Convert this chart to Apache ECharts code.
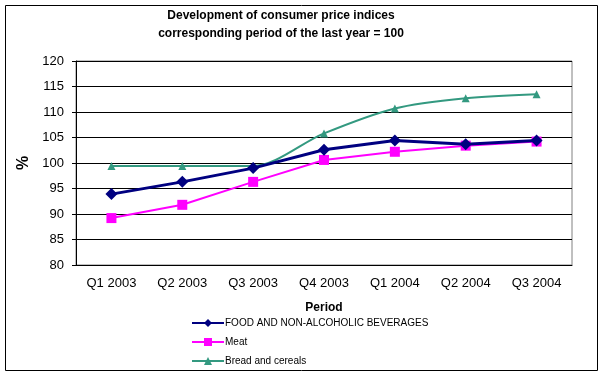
<!DOCTYPE html>
<html>
<head>
<meta charset="utf-8">
<script src="https://cdn.jsdelivr.net/npm/echarts@6/dist/echarts.min.js"></script>
<style>
  html, body { margin: 0; padding: 0; background: #fff; }
  #main { width: 604px; height: 375px; }
</style>
</head>
<body>
<div id="main"></div>
<script>
var periods = ['Q1 2003', 'Q2 2003', 'Q3 2003', 'Q4 2003', 'Q1 2004', 'Q2 2004', 'Q3 2004'];
var foodValues = [93.9, 96.3, 99.0, 102.6, 104.4, 103.7, 104.4];
var meatValues = [89.2, 91.8, 96.3, 100.6, 102.2, 103.4, 104.2];
var breadValues = [99.4, 99.4, 99.4, 105.8, 110.7, 112.7, 113.5];

var myChart = echarts.init(document.getElementById('main'));
var font = 'Arial, "Liberation Sans", sans-serif';

var option = {
    backgroundColor: '#fff',
    animation: false,
    textStyle: { fontFamily: font },
    title: {
        text: 'Development of consumer price indices\ncorresponding period of the last year = 100',
        left: 276,
        textAlign: 'center',
        top: 2,
        textStyle: { fontSize: 12, fontWeight: 'bold', color: '#000', lineHeight: 18, fontFamily: font }
    },
    graphic: [{
        type: 'rect',
        shape: { x: 5.5, y: 5.5, width: 592, height: 365 },
        style: { fill: 'none', stroke: '#000', lineWidth: 1 },
        silent: true
    }],
    legend: {
        orient: 'vertical',
        left: 186,
        top: 313,
        itemGap: 9,
        itemWidth: 32,
        itemHeight: 10,
        textStyle: { fontSize: 10, color: '#000', fontFamily: font, padding: [0, 0, 0, -4] },
        data: ['FOOD AND NON-ALCOHOLIC BEVERAGES', 'Meat', 'Bread and cereals']
    },
    grid: {
        left: 76, right: 32, top: 61, bottom: 110,
        show: true, borderColor: '#808080', borderWidth: 1
    },
    xAxis: {
        type: 'category',
        data: periods,
        name: 'Period',
        nameLocation: 'middle',
        nameGap: 37,
        nameTextStyle: { fontSize: 12, fontWeight: 'bold', color: '#000' },
        axisLine: { lineStyle: { color: '#000', width: 1 } },
        axisTick: { length: 4, lineStyle: { color: '#000' } },
        axisLabel: { fontSize: 13, color: '#000', margin: 12 }
    },
    yAxis: {
        type: 'value',
        min: 80, max: 120, interval: 5,
        name: '%',
        nameLocation: 'middle',
        nameGap: 40,
        nameRotate: 90,
        nameTextStyle: { fontSize: 16, fontWeight: 'bold', color: '#000' },
        axisLine: { show: true, lineStyle: { color: '#000' } },
        axisTick: { show: true, length: 4, lineStyle: { color: '#000' } },
        axisLabel: { fontSize: 13, color: '#000', margin: 12 },
        splitLine: { lineStyle: { color: '#000', width: 1 } }
    },
    series: [{
        name: 'FOOD AND NON-ALCOHOLIC BEVERAGES',
        type: 'line',
        data: foodValues,
        symbol: 'diamond',
        symbolSize: 12,
        z: 4,
        itemStyle: { color: '#000080' },
        lineStyle: { color: '#000080', width: 3 }
    }, {
        name: 'Meat',
        type: 'line',
        data: meatValues,
        symbol: 'rect',
        symbolSize: 10,
        z: 3,
        itemStyle: { color: '#ff00ff' },
        lineStyle: { color: '#ff00ff', width: 2 }
    }, {
        name: 'Bread and cereals',
        type: 'line',
        data: breadValues,
        smooth: 0.3,
        symbol: 'triangle',
        symbolSize: 8,
        z: 2,
        itemStyle: { color: '#339980' },
        lineStyle: { color: '#339980', width: 2 }
    }]
};

myChart.setOption(option);
</script>
</body>
</html>
